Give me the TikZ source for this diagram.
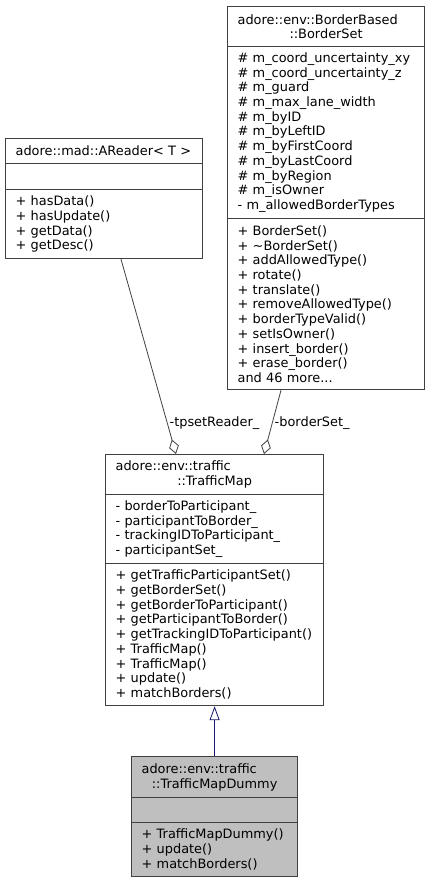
\documentclass[tikz,border=0pt]{standalone}
\usepackage{fontspec}
\setmainfont{DejaVu Sans}
\usetikzlibrary{arrows.meta}

\definecolor{edgegray}{HTML}{404040}
\definecolor{inheritblue}{HTML}{191970}
\definecolor{focusgray}{HTML}{BFBFBF}

\begin{document}
\begin{tikzpicture}[x=1pt,y=-1pt,
    font=\fontsize{12.9}{14.7}\selectfont,
    part/.style={draw=black!75,line width=1.2pt,fill=white,anchor=north west,
        inner xsep=10pt,inner ysep=0pt,align=left},
    aggregate/.style={draw=edgegray,line width=0.8pt,{Diamond[open,length=15pt,width=10pt]}-},
    inherit/.style={draw=inheritblue,line width=0.8pt,-{Triangle[open,length=14pt,width=10pt]}},
    role/.style={inner sep=2pt,anchor=west}]

    % white background with the size of the page
    \useasboundingbox[fill=white] (0,0) rectangle (429,883);

    % adore::mad::AReader
    \node[part,text width=177pt,minimum height=25pt] (readerTitle) at (5,138) {adore::mad::AReader< T >};
    \node[part,text width=177pt,minimum height=26pt] (readerAttr) at (5,163) {};
    \node[part,text width=177pt,minimum height=69pt] (readerMethods) at (5,189)
        {+ hasData()\\+ hasUpdate()\\+ getData()\\+ getDesc()};

    % adore::env::BorderBased::BorderSet
    \node[part,text width=177pt,minimum height=40pt] (borderTitle) at (227,6)
        {adore::env::BorderBased\\\makebox[\linewidth]{::BorderSet}};
    \node[part,text width=177pt,minimum height=172pt] (borderAttr) at (227,46)
        {\# m\_coord\_uncertainty\_xy\\\# m\_coord\_uncertainty\_z\\\# m\_guard\\\# m\_max\_lane\_width\\
         \# m\_byID\\\# m\_byLeftID\\\# m\_byFirstCoord\\\# m\_byLastCoord\\\# m\_byRegion\\
         \# m\_isOwner\\- m\_allowedBorderTypes};
    \node[part,text width=177pt,minimum height=171pt] (borderMethods) at (227,218)
        {+ BorderSet()\\+ \char"223C BorderSet()\\+ addAllowedType()\\+ rotate()\\+ translate()\\
         + removeAllowedType()\\+ borderTypeValid()\\+ setIsOwner()\\+ insert\_border()\\
         + erase\_border()\\and 46 more...};

    % adore::env::traffic::TrafficMap
    \node[part,text width=198pt,minimum height=40pt] (mapTitle) at (105,454)
        {adore::env::traffic\\\makebox[\linewidth]{::TrafficMap}};
    \node[part,text width=198pt,minimum height=69pt] (mapAttr) at (105,494)
        {- borderToParticipant\_\\- participantToBorder\_\\- trackingIDToParticipant\_\\- participantSet\_};
    \node[part,text width=198pt,minimum height=142pt] (mapMethods) at (105,563)
        {+ getTrafficParticipantSet()\\+ getBorderSet()\\+ getBorderToParticipant()\\
         + getParticipantToBorder()\\+ getTrackingIDToParticipant()\\+ TrafficMap()\\
         + TrafficMap()\\+ update()\\+ matchBorders()};

    % adore::env::traffic::TrafficMapDummy
    \node[part,fill=focusgray,text width=146pt,minimum height=41pt] (dummyTitle) at (131,756)
        {adore::env::traffic\\\makebox[\linewidth]{::TrafficMapDummy}};
    \node[part,fill=focusgray,text width=146pt,minimum height=25pt] (dummyAttr) at (131,797) {};
    \node[part,fill=focusgray,text width=146pt,minimum height=54pt] (dummyMethods) at (131,822)
        {+ TrafficMapDummy()\\+ update()\\+ matchBorders()};

    % aggregations
    \draw[aggregate] ([xshift=71pt]mapTitle.north west) -- ([xshift=116pt]readerMethods.south west)
        node[role,pos=0.16] (readerRole) {-tpsetReader\_};
    \draw[aggregate] ([xshift=159pt]mapTitle.north west) -- ([xshift=54pt]borderMethods.south west)
        node[role,pos=0.49] (borderRole) {-borderSet\_};

    % inheritance
    \draw[inherit] (dummyTitle.north) -- (dummyTitle.north |- mapMethods.south);

\end{tikzpicture}
\end{document}
